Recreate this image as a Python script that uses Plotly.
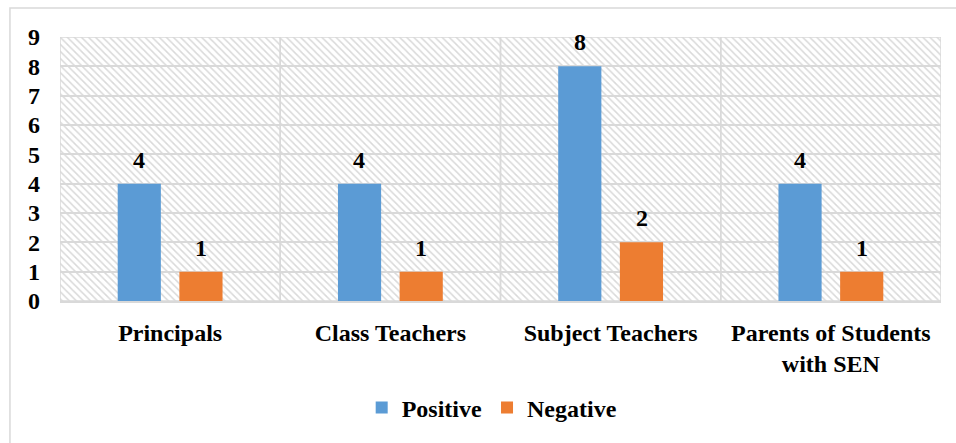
import plotly.graph_objects as go

categories = ["Principals", "Class Teachers", "Subject Teachers", "Parents of Students<br>with SEN"]
positive = [4, 4, 8, 4]
negative = [1, 1, 2, 1]
y_ticks = [0, 1, 2, 3, 4, 5, 6, 7, 8, 9]
y_max = 9

FONT = "Liberation Serif"
FS = 24
GRID = "#d9d9d9"
BLUE = "#5b9bd5"
ORANGE = "#ed7d31"

fig = go.Figure()

# hatched background panels (one per category) on the base axis
fig.add_trace(go.Bar(
    x=categories, y=[y_max] * len(categories), xaxis="x", yaxis="y",
    width=1, showlegend=False, hoverinfo="skip",
    marker=dict(color="rgba(0,0,0,0)",
                pattern=dict(shape="\\", fgcolor=GRID, bgcolor="rgba(0,0,0,0)",
                             size=5, solidity=0.3, fillmode="replace"),
                line=dict(color=GRID, width=1.5)),
))

fig.add_trace(go.Bar(name="Positive", x=categories, y=positive, xaxis="x2", yaxis="y",
                     marker=dict(color=BLUE, line=dict(width=0))))
fig.add_trace(go.Bar(name="Negative", x=categories, y=negative, xaxis="x2", yaxis="y",
                     marker=dict(color=ORANGE, line=dict(width=0))))

annotations = []
for series, shift in ((positive, -31), (negative, 31)):
    for c, v in zip(categories, series):
        annotations.append(dict(x=c, y=v, xref="x2", yref="y", text="<b>%d</b>" % v,
                                showarrow=False, xshift=shift, yshift=24,
                                yanchor="middle",
                                font=dict(family=FONT, size=FS, color="black")))

fig.update_layout(
    width=956, height=443,
    margin=dict(l=60, r=15, t=37, b=142, autoexpand=False),
    paper_bgcolor="white", plot_bgcolor="white",
    barmode="group", bargap=0.44, bargroupgap=0.3,
    font=dict(family=FONT, size=FS, color="black"),
    xaxis=dict(type="category", categoryorder="array", categoryarray=categories,
               range=[-0.5, len(categories) - 0.5], showgrid=False, zeroline=False,
               showline=True, linecolor=GRID, linewidth=2, ticks="",
               ticklabelstandoff=9, automargin=False,
               tickfont=dict(family=FONT, size=FS, color="black", weight="bold")),
    xaxis2=dict(type="category", categoryorder="array", categoryarray=categories,
                range=[-0.5, len(categories) - 0.5], overlaying="x", visible=False),
    yaxis=dict(range=[0, y_max], tickvals=y_ticks, showgrid=True, gridcolor=GRID,
               gridwidth=1.5, zeroline=False, showline=False, ticks="",
               ticklabelstandoff=19, automargin=False,
               tickfont=dict(family=FONT, size=FS, color="black", weight="bold")),
    legend=dict(orientation="h", x=0.49, xanchor="center", y=-0.405, yanchor="middle",
                font=dict(family=FONT, size=FS, color="black", weight="bold"),
                bgcolor="rgba(0,0,0,0)"),
    annotations=annotations,
    shapes=[dict(type="rect", xref="paper", yref="paper",
                 x0=-0.0568, x1=1.2, y0=-0.8, y1=1.11,
                 line=dict(color=GRID, width=1.5), fillcolor="rgba(0,0,0,0)", layer="below")],
)

fig.write_html("out.html", config={"displayModeBar": False},
               post_script="document.body.style.margin='0';document.body.style.padding='0';")
